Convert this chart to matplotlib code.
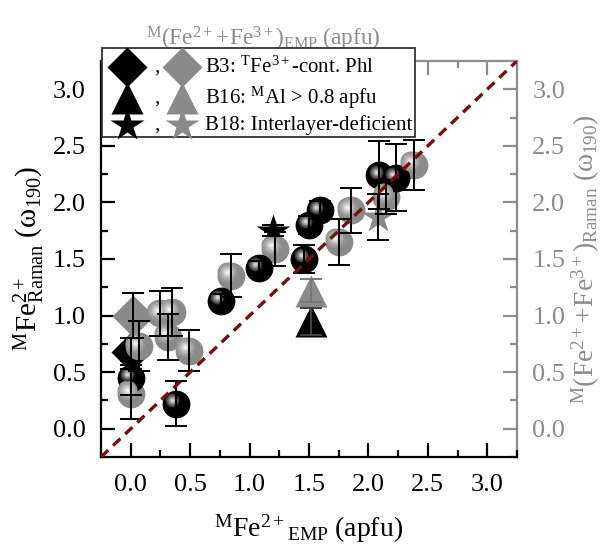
import matplotlib
matplotlib.use("Agg")
import matplotlib.pyplot as plt
from matplotlib.transforms import offset_copy
from matplotlib.patches import Rectangle
from matplotlib.lines import Line2D
from matplotlib.ticker import MultipleLocator

plt.rcParams['font.family'] = ['Liberation Serif', 'DejaVu Serif']
plt.rcParams['mathtext.fontset'] = 'custom'
plt.rcParams['mathtext.rm'] = 'Liberation Serif'
plt.rcParams['mathtext.it'] = 'Liberation Serif:italic'
plt.rcParams['mathtext.bf'] = 'Liberation Serif:bold'

# ---- data ----
black_x = [0.00, 0.38, 0.76, 1.08, 1.46, 1.50, 1.59, 2.09, 2.23]
black_y = [0.45, 0.22, 1.13, 1.42, 1.50, 1.80, 1.93, 2.24, 2.22]
black_err = [0.15, 0.20, 0.06, 0.06, 0.12, 0.08, 0.08, 0.30, 0.30]

gray_x = [0.00, 0.07, 0.25, 0.35, 0.31, 0.49, 0.84, 1.21, 1.75, 1.85, 2.15, 2.38]
gray_y = [0.31, 0.73, 1.02, 1.03, 0.81, 0.69, 1.35, 1.59, 1.65, 1.93, 2.05, 2.33]
gray_err = [0.22, 0.22, 0.20, 0.21, 0.20, 0.18, 0.19, 0.15, 0.20, 0.20, 0.15, 0.22]

b3_black_x, b3_black_y, b3_black_err = [0.00], [0.68], [0.12]
b3_gray_x, b3_gray_y, b3_gray_err = [0.02], [1.00], [0.20]
b16_black_x, b16_black_y, b16_black_err = [1.52], [0.95], [0.12]
b16_gray_x, b16_gray_y, b16_gray_err = [1.52], [1.22], [0.10]
b18_black_x, b18_black_y, b18_black_err = [1.20], [1.75], [0.05]
b18_gray_x, b18_gray_y, b18_gray_err = [2.08], [1.87], [0.20]

ticks = [0.0, 0.5, 1.0, 1.5, 2.0, 2.5, 3.0]
tick_labels = ['0.0', '0.5', '1.0', '1.5', '2.0', '2.5', '3.0']
lims = [-0.25, 3.25]

legend_labels = [r'B3: $^{\mathrm{T}}\mathrm{Fe}^{3+}$-cont. Phl',
                 r'B16: $^{\mathrm{M}}\mathrm{Al}$ > 0.8 apfu',
                 'B18: Interlayer-deficient']

GRAY = '#8a8a8a'
AXGRAY = '#8c8c8c'

fig = plt.figure(figsize=(6.10, 5.54), dpi=100)
ax = fig.add_axes([0.1656, 0.175, 0.6819, 0.715])
ax.set_xlim(lims)
ax.set_ylim(lims)

MS = 20


def spheres(x, y, dark):
    if dark:
        ax.plot(x, y, 'o', ms=MS, color='black', mec='none', zorder=3)
        layers = [(0.50, '#3a3a3a'), (0.38, '#6a6a6a'), (0.26, '#9a9a9a'), (0.14, '#d0d0d0')]
    else:
        ax.plot(x, y, 'o', ms=MS, color=GRAY, mec='none', zorder=3)
        layers = [(0.72, '#959595'), (0.56, '#a8a8a8'), (0.40, '#c0c0c0'),
                  (0.26, '#d8d8d8'), (0.13, '#f2f2f2')]
    tr = offset_copy(ax.transData, fig=fig, x=-2.6, y=2.6, units='points')
    for f, c in layers:
        ax.plot(x, y, 'o', ms=MS * f, color=c, mec='none', zorder=3.1, transform=tr)


def ebar(x, y, e, color='black'):
    ax.errorbar(x, y, yerr=e, fmt='none', ecolor=color, elinewidth=1.4,
                capsize=8, capthick=1.4, zorder=4)


spheres(gray_x, gray_y, False)
spheres(black_x, black_y, True)
ax.plot(b3_black_x, b3_black_y, 'D', ms=20, color='black', mec='none', zorder=2.9)
ax.plot(b3_gray_x, b3_gray_y, 'D', ms=21, color=GRAY, mec='none', zorder=2.9)
ax.plot(b16_black_x, b16_black_y, '^', ms=23, color='black', mec='none', zorder=3)
ax.plot(b16_gray_x, b16_gray_y, '^', ms=23, color=GRAY, mec='none', zorder=3)
ax.plot(b18_black_x, b18_black_y, '*', ms=25, color='black', mec='none', zorder=2.9)
ax.plot(b18_gray_x, b18_gray_y, '*', ms=25, color=GRAY, mec='none', zorder=3.2)

ebar(black_x, black_y, black_err)
ebar(gray_x, gray_y, gray_err)
ebar(b3_black_x, b3_black_y, b3_black_err)
ebar(b3_gray_x, b3_gray_y, b3_gray_err)
ebar(b16_black_x, b16_black_y, b16_black_err, color='#444444')
ebar(b16_gray_x, b16_gray_y, b16_gray_err, color='#777777')
ebar(b18_black_x, b18_black_y, b18_black_err)
ebar(b18_gray_x, b18_gray_y, b18_gray_err)

# 1:1 line
ax.plot(lims, lims, linestyle=(0, (3, 2)), color='#7a0c0c', lw=2.4, zorder=5)

# axes styling
for s in ['top', 'right']:
    ax.spines[s].set_visible(False)
for s in ['left', 'bottom']:
    ax.spines[s].set_linewidth(1.6)
    ax.spines[s].set_color('black')
ax.set_xticks(ticks)
ax.set_xticklabels(tick_labels)
ax.set_yticks(ticks)
ax.set_yticklabels(tick_labels)
ax.xaxis.set_minor_locator(MultipleLocator(0.25))
ax.yaxis.set_minor_locator(MultipleLocator(0.25))
ax.tick_params(which='major', direction='in', length=10, width=1.6, labelsize=19)
ax.tick_params(axis='x', which='major', pad=12)
ax.tick_params(axis='y', which='major', pad=11)
ax.tick_params(which='minor', direction='in', length=5, width=1.6)
ax.set_xlabel(r'$^{\mathrm{M}}\mathrm{Fe}^{2+}{}_{\mathrm{EMP}}\ \mathrm{(apfu)}$', fontsize=20, labelpad=12)
ax.set_ylabel(r'$^{\mathrm{M}}\mathrm{Fe}^{2+}_{\mathrm{Raman}}\ (\mathrm{\omega}_{190})$', fontsize=21, labelpad=4)

sy = ax.secondary_yaxis('right')
sy.spines['right'].set_color(AXGRAY)
sy.spines['right'].set_linewidth(1.6)
sy.set_yticks(ticks)
sy.set_yticklabels(tick_labels)
sy.yaxis.set_minor_locator(MultipleLocator(0.25))
sy.tick_params(which='major', direction='in', length=10, width=1.6, labelsize=19,
               colors=AXGRAY, pad=11)
sy.tick_params(which='minor', direction='in', length=5, width=1.6, colors=AXGRAY)
sy.set_ylabel(r'$^{\mathrm{M}}(\mathrm{Fe}^{2+}\!+\!\mathrm{Fe}^{3+})_{\mathrm{Raman}}\ (\mathrm{\omega}_{190})$',
              fontsize=20, color=AXGRAY, labelpad=3)

sx = ax.secondary_xaxis('top')
sx.spines['top'].set_color(AXGRAY)
sx.spines['top'].set_linewidth(1.6)
sx.set_xticks(ticks)
sx.set_xticklabels([])
sx.xaxis.set_minor_locator(MultipleLocator(0.25))
sx.tick_params(which='major', direction='in', length=10, width=1.6, colors=AXGRAY)
sx.tick_params(which='minor', direction='in', length=5, width=1.6, colors=AXGRAY)
sx.set_xlabel(r'$^{\mathrm{M}}(\mathrm{Fe}^{2+}\!+\!\mathrm{Fe}^{3+})_{\mathrm{EMP}}\ \mathrm{(apfu)}$',
              fontsize=18, color=AXGRAY)
sx.xaxis.label.set_va('bottom')
sx.xaxis.set_label_coords(0.39, 1.02, transform=ax.transAxes)

# size the two grey axis titles to the reference's extents (pixels)
fig.canvas.draw()
r = fig.canvas.get_renderer()
ylab = sy.yaxis.label
h = ylab.get_window_extent(r).height
ylab.set_fontsize(20 * 290.0 / h)
xlab = sx.xaxis.label
w = xlab.get_window_extent(r).width
xlab.set_fontsize(18 * 235.0 / w)

# manual legend (figure pixels -> fraction)
W, H = 610.0, 554.0
fig.add_artist(Rectangle((102 / W, 1 - 137 / H), 313 / W, 89 / H, transform=fig.transFigure,
                         facecolor='white', edgecolor='#333333', lw=1.3, zorder=20))
rows = [67, 98, 125]
mk = [('D', 20), ('^', 23), ('*', 25)]
for (m, s), py, lab in zip(mk, rows, legend_labels):
    yy = 1 - py / H
    fig.add_artist(Line2D([127 / W], [yy], marker=m, ms=s, color='black', mec='none',
                          transform=fig.transFigure, zorder=21))
    fig.add_artist(Line2D([182 / W], [yy], marker=m, ms=s, color=GRAY, mec='none',
                          transform=fig.transFigure, zorder=21))
    fig.text(157 / W, yy, ',', fontsize=15, ha='center', va='center', zorder=22)
    fig.text(205 / W, yy, lab, fontsize=15, ha='left', va='center', zorder=22)

fig.savefig('out.png', dpi=100)
